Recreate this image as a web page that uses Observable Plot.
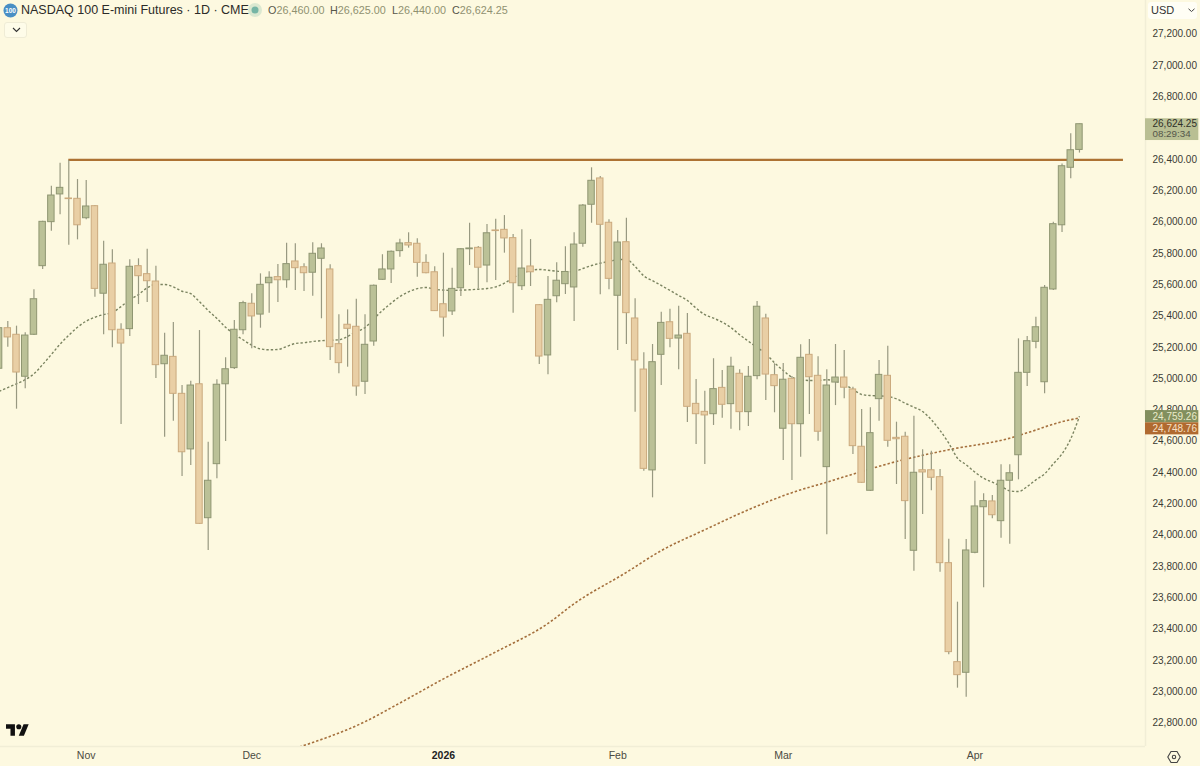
<!DOCTYPE html>
<html>
<head>
<meta charset="utf-8">
<script src="https://cdn.jsdelivr.net/npm/d3@7"></script>
<script src="https://cdn.jsdelivr.net/npm/@observablehq/plot@0.6"></script>
<style>
  html,body{margin:0;padding:0;background:#fdf9e0;overflow:hidden;}
  #wrap{position:relative;width:1200px;height:766px;font-family:"Liberation Sans",sans-serif;}
  #wrap svg{display:block;}
  .ov{position:absolute;white-space:nowrap;}
  .l{color:#55564a;} .v{color:#8f9170;}
</style>
</head>
<body>
<div id="wrap">
  <div id="chart"></div>
  <svg class="ov" style="left:3px;top:3px" width="15" height="15" viewBox="0 0 15 15"><circle cx="7.5" cy="7.5" r="7" fill="#4a8fc4"/><text x="7.5" y="9.8" text-anchor="middle" font-size="6.5" font-weight="700" fill="#fff" font-family="Liberation Sans">100</text></svg>
  <div class="ov" style="left:21px;top:2px;font-size:12.5px;line-height:17px;color:#2b2b28">NASDAQ 100 E-mini Futures · 1D · CME</div>
  <svg class="ov" style="left:247px;top:2px" width="16" height="16"><circle cx="8" cy="8" r="7" fill="#dbe8d0"/><circle cx="8" cy="8" r="3.5" fill="#76b5a5"/></svg>
  <div class="ov" style="left:268px;top:3px;font-size:10.8px;line-height:15px"><span class="l">O</span><span class="v">26,460.00</span></div>
  <div class="ov" style="left:330px;top:3px;font-size:10.8px;line-height:15px"><span class="l">H</span><span class="v">26,625.00</span></div>
  <div class="ov" style="left:392px;top:3px;font-size:10.8px;line-height:15px"><span class="l">L</span><span class="v">26,440.00</span></div>
  <div class="ov" style="left:452px;top:3px;font-size:10.8px;line-height:15px"><span class="l">C</span><span class="v">26,624.25</span></div>
  <div class="ov" style="left:4px;top:22px;width:21px;height:14px;border:1px solid #efecd6;border-radius:3px;background:#fefce9">
    <svg style="position:absolute;left:6.5px;top:4px" width="9" height="6"><path d="M1 1l3.5 3.5L8 1" fill="none" stroke="#333" stroke-width="1.1"/></svg>
  </div>
  <div class="ov" style="left:1148px;top:2px;width:49px;height:17px;background:#fffef5;border-radius:3px;font-size:11px;line-height:17px;color:#333"><span style="margin-left:3px">USD</span>
    <svg style="position:absolute;left:40px;top:6px" width="7" height="5"><path d="M.5.8l3 2.7 3-2.7" fill="none" stroke="#444" stroke-width="1"/></svg>
  </div>
  <svg class="ov" style="left:6px;top:724px" width="23" height="12" viewBox="0 4 36 18"><path fill="#111" d="M14 22H7V11H0V4h14v18zM28 22h-8l7.5-18h8L28 22z"/><circle cx="20" cy="8" r="4" fill="#111"/></svg>
  <svg class="ov" style="left:1167px;top:750px" width="14" height="14" viewBox="0 0 14 14"><path d="M4 1.5h6l3.2 5.5L10 12.5H4L.8 7z" fill="none" stroke="#444" stroke-width="1.1"/><circle cx="7" cy="7" r="1.7" fill="none" stroke="#444" stroke-width="1.1"/></svg>
</div>
<script>
const firstSession = -1;
const opens = [25063,25322,25280,25012,25280,25718,25999,26176,26150,26148,26024,26101,25542,25735,25312,25316,25718,25667,25620,25092,25139,24903,24548,24964,24109,24454,24964,25067,25309,25478,25409,25609,25648,25628,25748,25711,25676,25765,25697,25220,25344,25331,24980,25237,25631,25697,25814,25865,25861,25739,25679,25475,25429,25577,25826,25835,25722,25946,25950,25897,25590,25716,25469,25148,25526,25603,25582,25861,26110,26278,25995,25529,25871,25384,25058,24414,25152,25360,25256,25286,24839,24788,24773,24941,24837,25031,24786,25016,25384,25022,24680,24999,24709,25152,25018,24435,24975,25007,24931,24565,24284,24869,25018,24622,24629,23901,24415,24415,24371,23822,23190,23122,23888,24179,24216,24090,24348,24511,25037,25235,24977,25569,25979,26346,26460];
const highs = [25339,25365,25335,25293,25567,26005,26228,26375,26393,26271,26265,26105,25877,25822,25350,25759,25765,25826,25718,25290,25358,24956,24984,25307,24594,24993,25133,25371,25494,25542,25669,25682,25729,25865,25861,25733,25867,25861,25727,25408,25439,25507,25408,25597,25791,25814,25890,25931,25893,25791,25714,25801,25705,25829,25992,25844,25984,26018,26041,25920,25950,25888,25473,25652,25739,25842,25931,26112,26346,26290,26014,25946,26024,25510,25165,25218,25424,25443,25462,25416,24994,24920,25127,25052,25137,25056,25077,25492,25411,25095,25097,25014,25216,25250,25139,25056,25218,25180,24945,24803,24814,25116,25207,24722,24658,24760,24546,24537,24420,23975,23573,23973,24345,24265,24254,24450,24450,25254,25269,25392,25595,25999,26371,26563,26625];
const lows = [25039,25201,24805,24935,25275,25697,25941,26046,25852,25886,26014,25520,25280,25197,24707,25269,25473,25486,25001,24626,24728,24375,24445,24070,23903,24361,24599,25058,25280,25190,25322,25418,25486,25577,25563,25556,25526,25382,25116,25031,25073,24888,24899,25207,25628,25607,25775,25833,25648,25670,25428,25265,25403,25524,25722,25573,25612,25626,25801,25418,25563,25588,25090,25024,25484,25537,25365,25839,25992,25535,25567,25180,25218,24786,24409,24239,24956,25197,25056,24720,24580,24452,24701,24747,24677,24667,24694,24993,24860,24782,24477,24350,24498,24771,24601,24003,24828,24871,24516,24332,24280,24728,24562,24324,23973,23771,24133,24284,23764,23237,23024,22966,23882,23665,24105,23981,23943,24354,24950,25190,24903,25563,25933,26276,26440];
const closes = [25322,25263,25039,25275,25507,26001,26169,26218,26146,25979,26099,25573,25727,25309,25224,25714,25654,25622,25086,25146,24903,24530,24956,24073,24348,24961,25060,25312,25482,25397,25599,25644,25628,25731,25705,25673,25797,25831,25201,25099,25318,24950,25216,25593,25697,25810,25863,25850,25739,25673,25431,25390,25573,25826,25831,25708,25928,25942,25895,25609,25703,25679,25141,25503,25625,25681,25856,26105,26263,25982,25637,25869,25418,25116,24424,25105,25356,25254,25275,24820,24773,24765,24933,24833,25076,24786,25012,25459,25026,24952,24993,24709,25133,25009,24661,24956,25007,24942,24569,24335,24652,25024,24603,24613,24218,24399,24401,24367,23822,23254,23107,23903,24184,24218,24128,24348,24396,25037,25239,25328,25580,25986,26356,26458,26624.25];
const maShort = [24918,24943,24967,24993,25031,25090,25154,25220,25277,25328,25367,25392,25409,25422,25460,25503,25537,25580,25601,25601,25586,25558,25542,25491,25435,25384,25328,25284,25248,25213,25190,25184,25186,25205,25224,25229,25237,25242,25245,25248,25269,25299,25326,25382,25435,25482,25524,25554,25575,25582,25571,25565,25563,25565,25567,25571,25575,25586,25609,25644,25669,25690,25697,25692,25686,25682,25684,25703,25722,25737,25748,25759,25761,25716,25656,25625,25595,25563,25531,25499,25450,25408,25386,25360,25326,25280,25239,25199,25159,25101,25052,25009,24994,24988,24988,24993,24982,24963,24931,24899,24892,24890,24886,24871,24843,24818,24790,24737,24669,24588,24492,24450,24403,24364,24339,24313,24284,24279,24311,24354,24392,24456,24520,24616,24759.26];
const maLongSessions = [33,41,45,50,56,62,65,71,75,80,85,87,90,94,97,98,102,108,115,117,121,123];
const maLongValues = [22640,22810,22929,23083,23255,23437,23563,23763,23902,24035,24163,24209,24272,24339,24390,24407,24471,24546,24620,24654,24725,24748.76];
const levelPrice = 26396, levelFrom = 7, levelTo = 128.05;
const yTicks = [22800,23000,23200,23400,23600,23800,24000,24200,24400,24600,24800,25000,25200,25400,25600,25800,26000,26200,26400,26600,26800,27000,27200];
const monthSessions = [9,28,70,89,111];
const monthLabels = ["Nov","Dec","Feb","Mar","Apr"];
const yearSessions = [50];
const yearLabels = ["2026"];
const tagPrices = [26624.25,24759.26,24748.76];
const tagLabels = ["26,624.25","24,759.26","24,748.76"];
const tagTops = [26659,24796,24718];
const tagBottoms = [26520,24718,24641];
const tagFills = ["#b9bf93","#828f5e","#b06a30"];
const tagInks = ["#2f2f28","#e9ebc9","#f7e0c4"];
const tagShifts = [0,0,10.5];
const timerLabel = "08:29:34";

const candles = opens.map((o,k)=>({s:firstSession+k,o,h:highs[k],l:lows[k],c:closes[k],up:closes[k]>=o}));
const maShortRows = maShort.map((v,k)=>({s:firstSession+k,v}));
const maLongRows = maLongValues.map((v,k)=>({s:maLongSessions[k],v}));
const tags = tagPrices.map((p,k)=>({p,label:tagLabels[k],top:tagTops[k],bottom:tagBottoms[k],fill:tagFills[k],ink:tagInks[k],shift:tagShifts[k]}));
const font = '"Liberation Sans",sans-serif';
const half = 0.37;
const axisEdge = 130.58, tagEdge = 136.7;

const chart = Plot.plot({
  width:1200,height:766,marginLeft:0,marginRight:55,marginTop:0,marginBottom:20,
  style:{background:"#fdf9e0",fontFamily:font,overflow:"visible"},
  x:{domain:[-0.838,axisEdge],label:null},
  y:{domain:[22651.5,27414],label:null},
  marks:[
    Plot.ruleX([axisEdge],{stroke:"#f1eed6",strokeWidth:1.5,y1:27414,y2:22651.5}),
    Plot.ruleY([22651.5],{stroke:"#f1eed6",strokeWidth:1.5}),
    Plot.line(maLongRows,{x:"s",y:"v",stroke:"#a5703d",strokeWidth:1.6,strokeDasharray:"2.4 2",strokeLinecap:"butt",curve:"monotone-x",clip:true}),
    Plot.line(maShortRows,{x:"s",y:"v",stroke:"#7b8460",strokeWidth:1.4,strokeDasharray:"2.4 2",strokeLinecap:"butt",curve:"monotone-x",clip:true}),
    Plot.ruleY([levelPrice],{x1:levelFrom,x2:levelTo,stroke:"#ad7233",strokeWidth:2.2}),
    Plot.ruleX(candles,{x:"s",y1:"l",y2:"h",stroke:"#989981",strokeWidth:1.2,clip:true}),
    Plot.rect(candles,{x1:d=>d.s-half,x2:d=>d.s+half,y1:"o",y2:"c",
      fill:d=>d.up?"#bbc197":"#e9cfa5",stroke:d=>d.up?"#8f9672":"#cbaa7e",strokeWidth:1,clip:true}),
    Plot.axisY(yTicks,{anchor:"right",tickSize:0,tickPadding:7,tickFormat:d3.format(",.2f"),fontSize:10,fill:"#3b3b34",label:null,textAnchor:"start"}),
    Plot.axisX(monthSessions,{anchor:"bottom",tickSize:0,tickPadding:5,tickFormat:d=>monthLabels[monthSessions.indexOf(d)],fontSize:10.5,fill:"#4b4b42",label:null}),
    Plot.axisX(yearSessions,{anchor:"bottom",tickSize:0,tickPadding:5,tickFormat:d=>yearLabels[yearSessions.indexOf(d)],fontSize:10.5,fontWeight:700,fill:"#222",label:null}),
    Plot.rect(tags,{x1:axisEdge,x2:tagEdge,y1:"top",y2:"bottom",fill:"fill"}),
    Plot.text(tags,{x:axisEdge,y:"p",text:"label",fill:"ink",textAnchor:"start",fontSize:10,
      render(index,scales,values,dims,ctx,next){
        const g=next(index,scales,values,dims,ctx);
        d3.select(g).selectAll("text").attr("transform",function(_,k){
          const i=index[k];return `translate(${values.x[i]+7},${values.y[i]+tags[i].shift})`;});
        return g;}}),
    Plot.text([timerLabel],{x:axisEdge,y:()=>tagPrices[0],dx:7,dy:9.5,textAnchor:"start",fontSize:9.8,fill:"#55564a"})
  ],
  color:{type:"identity"}
});
document.getElementById("chart").appendChild(chart);
</script>
</body>
</html>
